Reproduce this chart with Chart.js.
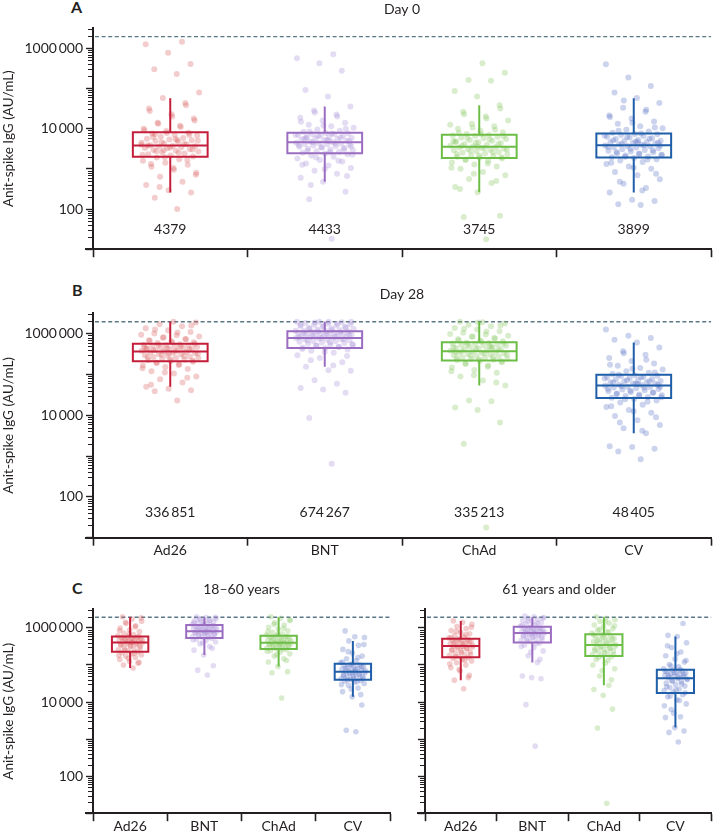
<!DOCTYPE html>
<html><head><meta charset="utf-8">
<script src="https://cdn.jsdelivr.net/npm/chart.js@4.4.1/dist/chart.umd.min.js"></script>
<style>
html,body{margin:0;padding:0;background:#fff;}
body{position:relative;width:714px;height:831px;overflow:hidden;font-family:Lato,sans-serif;color:#231f20;}
canvas{position:absolute;}
.pl{position:absolute;font-weight:700;font-size:16px;line-height:16px;}
</style></head><body>
<div class="pl" style="left:71px;top:-1px">A</div>
<div class="pl" style="left:72px;top:282px">B</div>
<div class="pl" style="left:72px;top:580px">C</div>
<canvas id="cA" width="714" height="262" style="left:0;top:0"></canvas>
<canvas id="cB" width="714" height="280" style="left:0;top:285px"></canvas>
<canvas id="cC1" width="400" height="250" style="left:0;top:581px"></canvas>
<canvas id="cC2" width="309" height="250" style="left:405px;top:581px"></canvas>
<script>
const categories = ['Ad26', 'BNT', 'ChAd', 'CV'];
const boxColors = ['#c41e3a', '#9b6dc1', '#6cbd45', '#1f5ea8'];
const dotColors = ['rgba(219,104,104,0.33)', 'rgba(167,138,214,0.30)', 'rgba(138,200,98,0.32)', 'rgba(86,108,196,0.30)'];
const yTickValues = [100, 10000, 1000000];
const yTickText = ['100', '10\u2009000', '1000\u2009000'];
const upperLimit = 1950000;

// Panel A: day 0  [whisker low, Q1, median, Q3, whisker high]
const day0Low = [257, 479, 263, 257];
const day0Q1 = [1995, 2455, 1860, 1905];
const day0Median = [3800, 4570, 3550, 3890];
const day0Q3 = [8130, 7940, 7080, 7590];
const day0High = [57500, 35500, 38000, 57500];
const day0Gmt = [4379, 4433, 3745, 3899];

// Panel B: day 28
const day28Low = [50100, 154900, 53700, 3630];
const day28Q1 = [208900, 446700, 218800, 26300];
const day28Median = [363100, 776200, 371500, 53700];
const day28Q3 = [562300, 1148000, 616600, 97700];
const day28High = [1950000, 1950000, 1950000, 602600];
const day28Gmt = [336851, 674267, 335213, 48405];

// Panel C: 18-60 years
const youngLow = [83200, 186200, 91200, 13800];
const youngQ1 = [229100, 537000, 269200, 39800];
const youngMedian = [407400, 812800, 398100, 66100];
const youngQ3 = [588800, 1202000, 616600, 107200];
const youngHigh = [1950000, 1950000, 1950000, 446700];

// Panel C: 61 years and older
const olderLow = [38900, 117500, 28200, 2040];
const olderQ1 = [162200, 407400, 173800, 17400];
const olderMedian = [323600, 724400, 346700, 43700];
const olderQ3 = [512900, 1072000, 676100, 74100];
const olderHigh = [1549000, 1950000, 1950000, 588800];

// individual measurements, log10(AU/mL)
const day0Ad26Log = [2.00,2.28,2.41,2.47,2.60,2.68,2.80,2.90,2.98,3.05,3.10,3.15,3.20,3.24,3.28,3.31,3.33,3.36,3.38,3.41,3.43,3.45,3.47,3.49,3.51,3.52,3.54,3.55,3.56,3.57,3.59,3.61,3.63,3.65,3.67,3.69,3.71,3.73,3.75,3.77,3.80,3.83,3.85,3.88,3.90,3.94,4.00,4.07,4.15,4.25,4.36,4.50,4.64,4.76,4.90,5.36,5.48,5.61,5.89,6.10,6.16,
  2.55,2.85,3.02,3.12,3.22,3.29,3.35,3.40,3.44,3.48,3.53,3.58,3.62,3.66,3.70,3.74,3.79,3.84,3.89,3.96,4.04,4.12,4.20,4.30,4.44,4.58,3.46,3.60,3.72,3.86];
const day0BntLog = [1.26,2.24,2.43,2.68,2.78,2.88,2.95,3.02,3.08,3.13,3.18,3.22,3.26,3.30,3.33,3.36,3.38,3.40,3.42,3.44,3.46,3.48,3.50,3.52,3.54,3.55,3.57,3.58,3.60,3.61,3.62,3.63,3.64,3.65,3.67,3.68,3.70,3.71,3.73,3.74,3.76,3.77,3.79,3.80,3.82,3.83,3.85,3.86,3.87,3.88,3.89,3.92,3.95,3.98,4.02,4.06,4.10,4.15,4.20,4.27,4.35,4.45,4.55,4.80,4.96,5.44,5.63,5.75,5.85,
  2.60,2.82,2.99,3.10,3.20,3.28,3.35,3.41,3.45,3.49,3.53,3.59,3.63,3.66,3.69,3.72,3.75,3.78,3.81,3.84,3.88,3.93,4.00,4.08,4.17,4.30,4.40,3.56,3.69,3.77];
const day0ChadLog = [1.25,1.80,1.83,2.42,2.55,2.65,2.75,2.84,2.92,3.00,3.06,3.11,3.16,3.20,3.23,3.26,3.28,3.30,3.32,3.34,3.36,3.38,3.40,3.42,3.44,3.46,3.47,3.49,3.50,3.52,3.53,3.54,3.56,3.58,3.60,3.62,3.64,3.66,3.68,3.70,3.72,3.74,3.76,3.78,3.80,3.82,3.83,3.84,3.87,3.91,3.95,4.00,4.06,4.12,4.20,4.30,4.42,4.58,4.80,4.94,5.19,5.21,5.39,5.63,
  2.50,2.70,2.88,3.03,3.13,3.22,3.29,3.33,3.37,3.41,3.45,3.48,3.52,3.57,3.61,3.65,3.69,3.73,3.77,3.81,3.86,3.90,3.97,4.03,4.10,4.25,4.36,4.50,3.55,3.67];
const day0CvLog = [2.10,2.12,2.20,2.23,2.41,2.52,2.63,2.74,2.84,2.92,3.00,3.06,3.12,3.17,3.21,3.24,3.27,3.29,3.31,3.33,3.35,3.37,3.39,3.41,3.43,3.45,3.47,3.49,3.51,3.53,3.54,3.56,3.57,3.58,3.60,3.61,3.63,3.64,3.66,3.67,3.69,3.70,3.72,3.74,3.76,3.78,3.80,3.82,3.84,3.86,3.87,3.90,3.93,3.97,4.01,4.06,4.12,4.18,4.25,4.33,4.42,4.52,4.64,4.76,4.90,5.06,5.27,5.60,
  2.46,2.68,2.88,3.03,3.15,3.23,3.30,3.34,3.38,3.42,3.46,3.50,3.55,3.59,3.62,3.65,3.68,3.71,3.75,3.79,3.83,3.88,3.95,4.03,4.15,4.29,4.47,4.70,3.58,3.66];

const day28Ad26Log = [4.36,4.59,4.61,4.65,4.70,4.80,4.88,4.95,5.02,5.08,5.13,5.18,5.22,5.25,5.28,5.31,5.33,5.35,5.36,5.38,5.40,5.41,5.43,5.44,5.46,5.47,5.49,5.50,5.52,5.53,5.54,5.55,5.57,5.58,5.59,5.60,5.62,5.63,5.64,5.65,5.66,5.67,5.68,5.70,5.71,5.72,5.73,5.74,5.77,5.79,5.81,5.84,5.87,5.90,5.93,5.96,6.00,6.04,6.08,6.13,6.18,6.23,6.27,6.29,
  4.75,4.92,5.05,5.15,5.23,5.29,5.34,5.37,5.42,5.45,5.48,5.51,5.56,5.59,5.61,5.64,5.66,5.69,5.72,5.75,5.78,5.82,5.86,5.91,5.97,6.03,6.10,6.20,5.52,5.62];
const day28BntLog = [2.81,3.93,4.55,4.63,4.67,4.77,4.86,5.09,5.10,5.19,5.30,5.40,5.47,5.53,5.58,5.61,5.64,5.66,5.68,5.70,5.72,5.73,5.75,5.77,5.78,5.80,5.81,5.82,5.84,5.85,5.86,5.87,5.88,5.89,5.90,5.91,5.92,5.93,5.94,5.95,5.96,5.97,5.98,5.99,6.00,6.01,6.02,6.03,6.04,6.05,6.06,6.07,6.08,6.10,6.11,6.13,6.14,6.16,6.17,6.19,6.20,6.22,6.23,6.25,6.26,6.28,6.29,6.29,
  5.22,5.35,5.45,5.55,5.62,5.67,5.71,5.74,5.79,5.83,5.86,5.89,5.91,5.93,5.95,5.97,5.99,6.01,6.03,6.05,6.07,6.09,6.12,6.15,6.18,6.21,6.24,6.27,6.29,6.29];
const day28ChadLog = [1.25,3.30,3.82,4.13,4.19,4.34,4.36,4.73,4.85,4.95,5.04,5.11,5.17,5.22,5.26,5.30,5.33,5.35,5.36,5.38,5.39,5.41,5.42,5.44,5.45,5.47,5.48,5.50,5.51,5.53,5.54,5.55,5.56,5.58,5.59,5.61,5.62,5.64,5.65,5.67,5.68,5.70,5.71,5.72,5.74,5.75,5.76,5.77,5.78,5.81,5.83,5.86,5.89,5.92,5.95,5.98,6.02,6.06,6.10,6.14,6.18,6.22,6.25,6.28,6.29,
  4.80,4.98,5.08,5.19,5.27,5.32,5.37,5.40,5.43,5.46,5.49,5.52,5.57,5.60,5.63,5.66,5.69,5.73,5.76,5.80,5.84,5.88,5.93,5.99,6.05,6.12,6.20,6.27,5.55,5.65];
const day28CvLog = [2.92,3.11,3.18,3.22,3.24,3.56,3.68,3.76,3.88,3.98,4.06,4.13,4.20,4.26,4.31,4.36,4.40,4.43,4.45,4.47,4.49,4.51,4.53,4.55,4.57,4.59,4.61,4.63,4.64,4.66,4.68,4.69,4.70,4.72,4.74,4.75,4.77,4.78,4.80,4.81,4.83,4.84,4.86,4.88,4.89,4.91,4.93,4.94,4.96,4.97,4.98,5.01,5.04,5.08,5.12,5.16,5.21,5.27,5.33,5.40,5.48,5.57,5.66,5.78,5.85,5.89,5.95,6.10,
  3.62,3.82,3.95,4.10,4.22,4.33,4.39,4.44,4.48,4.52,4.56,4.60,4.65,4.68,4.71,4.74,4.77,4.80,4.83,4.86,4.90,4.94,4.99,5.05,5.14,5.24,5.36,5.52,4.70,4.76];

const youngAd26Log = [4.92,5.00,5.07,5.10,5.15,5.20,5.24,5.27,5.30,5.33,5.35,5.38,5.41,5.44,5.47,5.50,5.52,5.54,5.56,5.58,5.59,5.60,5.62,5.63,5.65,5.66,5.68,5.69,5.71,5.72,5.74,5.75,5.76,5.79,5.82,5.86,5.90,5.95,6.00,6.06,6.12,6.18,6.24,6.30,
  5.05,5.18,5.26,5.32,5.40,5.46,5.51,5.55,5.59,5.63,5.66,5.70,5.73,5.77,5.84,5.93,6.03,6.15,6.27,5.61];
const youngBntLog = [4.73,4.86,4.98,5.27,5.40,5.50,5.57,5.62,5.66,5.69,5.72,5.75,5.77,5.79,5.81,5.83,5.84,5.86,5.87,5.88,5.89,5.90,5.92,5.93,5.95,5.96,5.98,5.99,6.01,6.02,6.04,6.05,6.07,6.09,6.11,6.13,6.15,6.17,6.19,6.21,6.23,6.25,6.28,6.30,
  5.45,5.60,5.68,5.74,5.78,5.82,5.85,5.88,5.91,5.94,5.97,6.00,6.03,6.06,6.10,6.14,6.19,6.24,6.29,5.90];
const youngChadLog = [4.11,4.79,4.82,4.96,5.08,5.17,5.24,5.30,5.35,5.39,5.42,5.44,5.46,5.48,5.50,5.52,5.53,5.55,5.56,5.57,5.58,5.59,5.61,5.63,5.64,5.66,5.68,5.70,5.72,5.74,5.75,5.77,5.78,5.81,5.84,5.88,5.92,5.97,6.02,6.08,6.14,6.20,6.26,6.30,
  5.12,5.28,5.37,5.43,5.47,5.51,5.54,5.57,5.60,5.62,5.65,5.69,5.73,5.77,5.83,5.90,5.99,6.10,6.22,5.59];
const youngCvLog = [3.20,3.24,3.92,4.14,4.28,4.38,4.45,4.50,4.54,4.57,4.59,4.61,4.63,4.65,4.67,4.69,4.71,4.73,4.75,4.77,4.79,4.81,4.83,4.85,4.87,4.89,4.91,4.93,4.95,4.97,4.99,5.00,5.02,5.06,5.11,5.17,5.24,5.32,5.42,5.53,5.65,5.74,5.76,5.92,
  4.20,4.35,4.47,4.55,4.60,4.64,4.68,4.72,4.76,4.80,4.84,4.88,4.92,4.96,5.01,5.08,5.20,5.36,5.55,4.82];

const olderAd26Log = [4.36,4.59,4.72,4.84,4.93,5.00,5.06,5.11,5.15,5.18,5.20,5.23,5.26,5.29,5.32,5.35,5.38,5.41,5.44,5.46,5.48,5.50,5.52,5.54,5.56,5.58,5.60,5.62,5.64,5.66,5.67,5.69,5.70,5.73,5.76,5.80,5.84,5.88,5.93,5.98,6.04,6.10,6.15,6.19,
  4.66,4.88,5.03,5.13,5.22,5.28,5.34,5.40,5.45,5.49,5.53,5.57,5.61,5.65,5.69,5.74,5.82,5.91,6.02,5.51];
const olderBntLog = [2.81,3.93,4.63,4.66,4.70,5.07,5.25,5.38,5.47,5.54,5.59,5.63,5.66,5.69,5.71,5.74,5.76,5.78,5.80,5.82,5.84,5.85,5.87,5.88,5.90,5.91,5.93,5.94,5.96,5.97,5.99,6.00,6.02,6.05,6.08,6.11,6.14,6.17,6.20,6.23,6.26,6.28,6.30,6.32,
  5.15,5.35,5.50,5.58,5.65,5.70,5.75,5.79,5.83,5.86,5.89,5.92,5.95,5.98,6.02,6.07,6.13,6.19,6.26,5.86];
const olderChadLog = [1.27,3.30,3.81,4.18,4.34,4.45,4.70,4.90,5.05,5.15,5.22,5.26,5.29,5.32,5.35,5.38,5.41,5.44,5.46,5.48,5.51,5.53,5.56,5.58,5.61,5.63,5.66,5.68,5.71,5.74,5.77,5.79,5.82,5.86,5.90,5.94,5.98,6.03,6.08,6.13,6.18,6.22,6.26,6.30,
  4.60,4.85,5.00,5.12,5.20,5.28,5.34,5.40,5.45,5.50,5.55,5.60,5.65,5.70,5.75,5.81,5.88,5.96,6.06,6.16];
const olderCvLog = [2.92,3.18,3.22,3.31,3.58,3.60,3.80,3.95,4.06,4.14,4.20,4.27,4.31,4.35,4.39,4.43,4.47,4.51,4.55,4.58,4.61,4.63,4.66,4.68,4.70,4.72,4.74,4.76,4.78,4.80,4.82,4.84,4.86,4.90,4.95,5.01,5.08,5.16,5.25,5.35,5.47,5.60,5.77,5.80,6.12,
  3.70,3.90,4.04,4.16,4.25,4.33,4.41,4.49,4.56,4.62,4.67,4.71,4.75,4.79,4.83,4.88,4.97,5.12,5.30,5.52];

Chart.defaults.font.family = 'Lato';
Chart.defaults.color = '#231f20';
const INK = '#231f20';

function fmt(n) {
  const s = String(n);
  return n >= 10000 ? s.replace(/\B(?=(\d{3})+(?!\d))/g, '\u2009') : s;
}

function boxData(c, lo, q1, med, q3, hi, hw) {
  return [
    {x: c - hw, y: q1}, {x: c + hw, y: q1}, {x: c + hw, y: q3}, {x: c - hw, y: q3}, {x: c - hw, y: q1}, {x: c + hw, y: q1},
    {x: c, y: null},
    {x: c - hw, y: med}, {x: c + hw, y: med},
    {x: c, y: null},
    {x: c, y: q3}, {x: c, y: hi},
    {x: c, y: null},
    {x: c, y: q1}, {x: c, y: lo}
  ];
}

function dots(c, logs, spread) {
  return logs.map((v, j) => ({x: c + ((((j + 1) * 0.6180339887) % 1) - 0.5) * 2 * spread, y: Math.pow(10, v)}));
}

const panelExtras = {
  id: 'panelExtras',
  beforeDatasetsDraw(chart) {
    const {ctx, chartArea: a, scales: {y}} = chart;
    const yy = y.getPixelForValue(upperLimit);
    ctx.save();
    ctx.strokeStyle = '#5b7886';
    ctx.lineWidth = 1.4;
    ctx.setLineDash([4, 2.6]);
    ctx.beginPath();
    ctx.moveTo(a.left + 2, yy);
    ctx.lineTo(a.right, yy);
    ctx.stroke();
    ctx.restore();
  },
  afterDraw(chart, args, o) {
    const {ctx, scales: {x, y}} = chart;
    ctx.save();
    ctx.strokeStyle = INK;
    ctx.lineWidth = 1;
    const ax = y.right - 1;
    for (let e = 1; e <= 6; e++) {
      for (let k = 2; k <= 9; k++) {
        const v = k * Math.pow(10, e);
        if (v > y.max) continue;
        const py = Math.round(y.getPixelForValue(v)) + 0.5;
        ctx.beginPath();
        ctx.moveTo(ax - 4, py);
        ctx.lineTo(ax, py);
        ctx.stroke();
      }
    }
    // x axis line continues a little left of the y axis, as in the original
    const bx = chart.scales.x;
    ctx.lineWidth = 2;
    ctx.beginPath();
    ctx.moveTo(bx.left - 8, Math.round(bx.top) + 0);
    ctx.lineTo(bx.left, Math.round(bx.top) + 0);
    ctx.stroke();
    if (o.gmt) {
      ctx.fillStyle = INK;
      ctx.font = '14px Lato';
      ctx.textAlign = 'center';
      ctx.textBaseline = 'middle';
      o.gmt.forEach((g, i) => ctx.fillText(fmt(g), x.getPixelForValue(i + 1), y.getPixelForValue(o.level)));
    }
    ctx.restore();
  }
};

function makePanel(id, o) {
  const datasets = [];
  for (let i = 0; i < 4; i++) {
    datasets.push({
      type: 'line', data: boxData(i + 1, o.low[i], o.q1[i], o.med[i], o.q3[i], o.high[i], o.hw),
      borderColor: boxColors[i], borderWidth: 2, pointRadius: 0, pointHoverRadius: 0,
      showLine: true, spanGaps: false, fill: false, tension: 0, order: 0, borderJoinStyle: 'miter'
    });
  }
  for (let i = 0; i < 4; i++) {
    datasets.push({
      type: 'scatter', data: dots(i + 1, o.logs[i], o.spread),
      backgroundColor: dotColors[i], borderWidth: 0, pointRadius: o.r, pointHoverRadius: o.r, order: 1
    });
  }
  new Chart(document.getElementById(id), {
    type: 'scatter',
    data: {datasets},
    plugins: [panelExtras],
    options: {
      responsive: false, animation: false, devicePixelRatio: 1, events: [],
      layout: {padding: {left: 0, right: o.padRight, top: 0, bottom: o.padBottom}},
      plugins: {
        legend: {display: false}, tooltip: {enabled: false},
        title: {display: true, text: o.title, fullSize: o.titleFull, color: INK,
          font: {family: 'Lato', size: 14, weight: 'normal'}, padding: {top: o.tTop, bottom: o.tBottom}},
        panelExtras: {gmt: o.gmt, level: o.level}
      },
      scales: {
        x: {
          type: 'linear', min: 0.5, max: 4.5,
          afterBuildTicks: s => { s.ticks = [1, 2, 3, 4].map(v => ({value: v})); },
          ticks: {display: o.xLabels, autoSkip: false, maxRotation: 0, padding: -3.5, color: INK,
            font: {family: 'Lato', size: 14}, callback: v => categories[v - 1]},
          grid: {offset: true, drawOnChartArea: false, drawTicks: true, tickLength: 8, tickColor: INK, tickWidth: 1.6},
          border: {color: INK, width: 2}
        },
        y: {
          type: 'logarithmic', min: 10, max: 3162278,
          afterBuildTicks: s => { s.ticks = [10, 100, 1000, 10000, 100000, 1000000].map(v => ({value: v})); },
          afterFit: s => { s.width = o.yWidth; },
          ticks: {display: o.yLabels, autoSkip: false, padding: 3, color: INK, font: {family: 'Lato', size: 14},
            callback: v => { const k = yTickValues.indexOf(v); return k >= 0 ? yTickText[k] : ''; }},
          grid: {drawOnChartArea: false, drawTicks: true, tickLength: 7, tickColor: INK, tickWidth: 1.4},
          border: {color: INK, width: 2},
          title: {display: o.yLabels, text: 'Anit-spike IgG (AU/mL)', color: INK,
            font: {family: 'Lato', size: 13.5}, padding: {top: 1, bottom: 0}}
        }
      }
    }
  });
}

makePanel('cA', {
  low: day0Low, q1: day0Q1, med: day0Median, q3: day0Q3, high: day0High,
  logs: [day0Ad26Log, day0BntLog, day0ChadLog, day0CvLog], gmt: day0Gmt, level: 31.6,
  title: 'Day 0', titleFull: false, tTop: 1, tBottom: 10.4, padRight: 1, padBottom: 4.8,
  xLabels: false, yLabels: true, yWidth: 93, hw: 0.242, spread: 0.19, r: 3
});
makePanel('cB', {
  low: day28Low, q1: day28Q1, med: day28Median, q3: day28Q3, high: day28High,
  logs: [day28Ad26Log, day28BntLog, day28ChadLog, day28CvLog], gmt: day28Gmt, level: 41.7,
  title: 'Day 28', titleFull: false, tTop: 1, tBottom: 10.4, padRight: 1, padBottom: 9.5,
  xLabels: true, yLabels: true, yWidth: 93, hw: 0.242, spread: 0.19, r: 3
});
makePanel('cC1', {
  low: youngLow, q1: youngQ1, med: youngMedian, q3: youngQ3, high: youngHigh,
  logs: [youngAd26Log, youngBntLog, youngChadLog, youngCvLog], gmt: null, level: 30,
  title: '18\u201360 years', titleFull: false, tTop: 0.5, tBottom: 11.1, padRight: 10, padBottom: 0,
  xLabels: true, yLabels: true, yWidth: 93, hw: 0.245, spread: 0.17, r: 2.8
});
makePanel('cC2', {
  low: olderLow, q1: olderQ1, med: olderMedian, q3: olderQ3, high: olderHigh,
  logs: [olderAd26Log, olderBntLog, olderChadLog, olderCvLog], gmt: null, level: 30,
  title: '61 years and older', titleFull: true, tTop: 0.5, tBottom: 11.1, padRight: 1, padBottom: 0,
  xLabels: true, yLabels: false, yWidth: 20, hw: 0.26, spread: 0.17, r: 2.8
});
</script>
</body></html>
